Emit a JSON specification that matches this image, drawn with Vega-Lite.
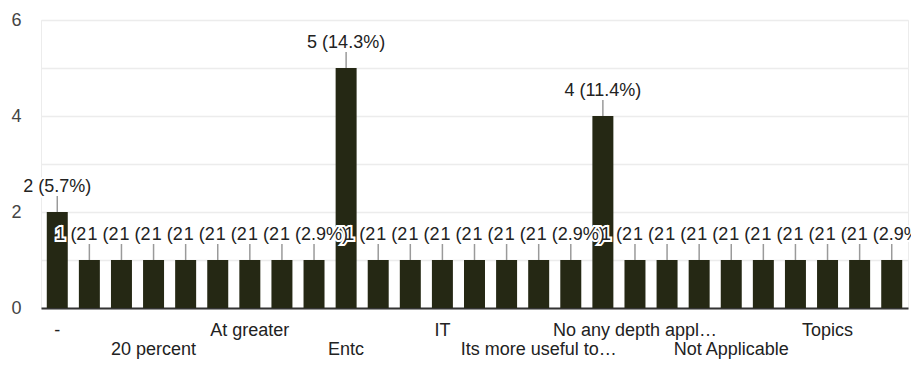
{
  "$schema": "https://vega.github.io/schema/vega-lite/v6.json",
  "autosize": "none",
  "width": 867,
  "height": 288,
  "padding": {"left": 41, "top": 20, "right": 3, "bottom": 57},
  "background": "white",
  "config": {
    "font": "Liberation Sans",
    "view": {"stroke": "#ececec", "strokeWidth": 1}
  },
  "data": {
    "values": [
      {"cat": "-", "count": 2, "label": "2 (5.7%)"},
      {"cat": ".", "count": 1, "label": "1 (2.9%)"},
      {"cat": "10 percent", "count": 1, "label": "1 (2.9%)"},
      {"cat": "20 percent", "count": 1, "label": "1 (2.9%)"},
      {"cat": "30 percent", "count": 1, "label": "1 (2.9%)"},
      {"cat": "Agree", "count": 1, "label": "1 (2.9%)"},
      {"cat": "At greater", "count": 1, "label": "1 (2.9%)"},
      {"cat": "Average", "count": 1, "label": "1 (2.9%)"},
      {"cat": "Civil", "count": 1, "label": "1 (2.9%)"},
      {"cat": "Entc", "count": 5, "label": "5 (14.3%)"},
      {"cat": "Good", "count": 1, "label": "1 (2.9%)"},
      {"cat": "Helpful", "count": 1, "label": "1 (2.9%)"},
      {"cat": "IT", "count": 1, "label": "1 (2.9%)"},
      {"cat": "Industry oriented", "count": 1, "label": "1 (2.9%)"},
      {"cat": "It is good", "count": 1, "label": "1 (2.9%)"},
      {"cat": "Its more useful to students", "count": 1, "label": "1 (2.9%)"},
      {"cat": "Mechanical", "count": 1, "label": "1 (2.9%)"},
      {"cat": "No", "count": 4, "label": "4 (11.4%)"},
      {"cat": "No any depth application", "count": 1, "label": "1 (2.9%)"},
      {"cat": "None", "count": 1, "label": "1 (2.9%)"},
      {"cat": "Nope", "count": 1, "label": "1 (2.9%)"},
      {"cat": "Not Applicable", "count": 1, "label": "1 (2.9%)"},
      {"cat": "Practical knowledge", "count": 1, "label": "1 (2.9%)"},
      {"cat": "Theory", "count": 1, "label": "1 (2.9%)"},
      {"cat": "Topics", "count": 1, "label": "1 (2.9%)"},
      {"cat": "Useful", "count": 1, "label": "1 (2.9%)"},
      {"cat": "Yes", "count": 1, "label": "1 (2.9%)"}
    ]
  },
  "encoding": {
    "x": {
      "field": "cat",
      "type": "nominal",
      "sort": null,
      "scale": {"paddingInner": 0.346, "paddingOuter": 0.18},
      "axis": {
        "title": null,
        "ticks": false,
        "grid": false,
        "domainColor": "#333333",
        "domainWidth": 2,
        "labelAngle": 0,
        "labelFontSize": 18,
        "labelColor": "#222222",
        "labelPadding": 13,
        "labelLineHeight": 19,
        "labelOverlap": false,
        "labelLimit": 400,
        "labelExpr": "indexof(['-','At greater','IT','No any depth application','Topics'], datum.label) >= 0 ? (datum.label == 'No any depth application' ? 'No any depth appl…' : datum.label) : (indexof(['20 percent','Entc','Its more useful to students','Not Applicable'], datum.label) >= 0 ? ['', (datum.label == 'Its more useful to students' ? 'Its more useful to…' : datum.label)] : '')"
      }
    },
    "y": {
      "field": "count",
      "type": "quantitative",
      "scale": {"domain": [0, 6], "nice": false},
      "axis": {
        "title": null,
        "values": [0, 1, 2, 3, 4, 5, 6],
        "labelExpr": "datum.value % 2 == 0 ? datum.label : ''",
        "domain": false,
        "ticks": false,
        "gridColor": "#ececec",
        "gridWidth": 1.5,
        "labelFontSize": 18,
        "labelColor": "#444444",
        "labelPadding": 20
      }
    }
  },
  "layer": [
    {"mark": {"type": "bar", "color": "#252814"}},
    {
      "mark": {"type": "rule", "color": "#9a9a9a", "strokeWidth": 1.5, "y2Offset": -16},
      "encoding": {"y2": {"field": "count"}}
    },
    {
      "transform": [{"filter": "datum.count == 1 && indexof(['Civil','Mechanical','Yes'], datum.cat) < 0"}],
      "mark": {"type": "text", "align": "left", "baseline": "alphabetic", "dx": -34, "dy": -20, "fontSize": 18, "limit": 33, "ellipsis": "\u200b", "fill": "white", "stroke": "white", "strokeWidth": 4},
      "encoding": {"text": {"field": "label"}}
    },
    {
      "transform": [{"filter": "!(datum.count == 1 && indexof(['Civil','Mechanical','Yes'], datum.cat) < 0)"}],
      "mark": {"type": "text", "align": "center", "baseline": "alphabetic", "dy": -20, "fontSize": 18, "fill": "white", "stroke": "white", "strokeWidth": 4},
      "encoding": {"text": {"field": "label"}}
    },
    {
      "transform": [{"filter": "datum.count == 1 && indexof(['Civil','Mechanical','Yes'], datum.cat) < 0"}],
      "mark": {"type": "text", "align": "left", "baseline": "alphabetic", "dx": -34, "dy": -20, "fontSize": 18, "limit": 33, "ellipsis": "\u200b", "color": "#222222"},
      "encoding": {"text": {"field": "label"}}
    },
    {
      "transform": [{"filter": "!(datum.count == 1 && indexof(['Civil','Mechanical','Yes'], datum.cat) < 0)"}],
      "mark": {"type": "text", "align": "center", "baseline": "alphabetic", "dy": -20, "fontSize": 18, "color": "#222222"},
      "encoding": {"text": {"field": "label"}}
    }
  ]
}
